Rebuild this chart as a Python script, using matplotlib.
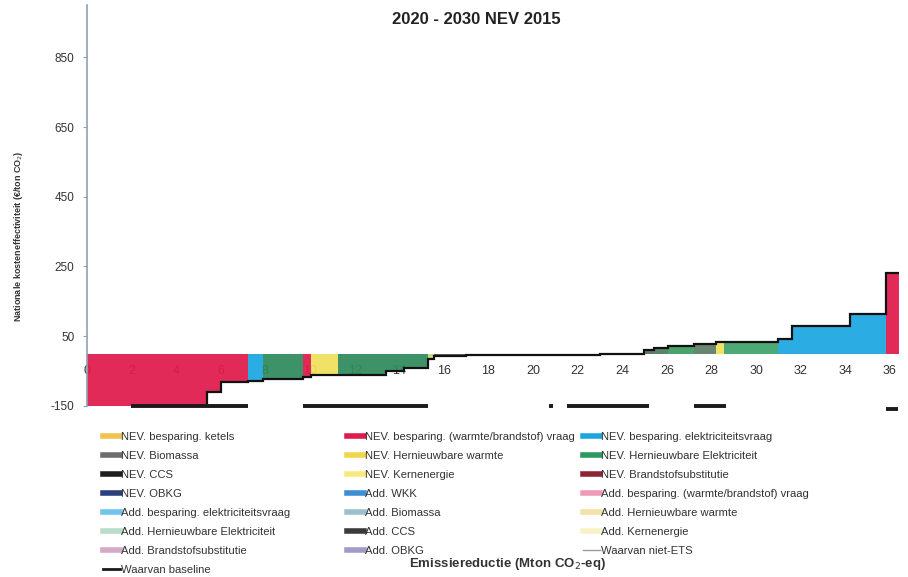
import matplotlib.pyplot as plt
from matplotlib.lines import Line2D

plt.rcParams['font.family'] = ['Liberation Sans', 'DejaVu Sans']
plt.rcParams['axes.unicode_minus'] = False

# cost curve: segment edges (Mton CO2-eq) and cost per segment (EUR/ton CO2)
edges = [0, 5.4, 6.0, 7.2, 7.9, 9.7, 10.05, 11.26, 13.4, 14.2, 15.3, 15.56,
         17.0, 19.0, 21.0, 23.0, 24.98, 25.4, 26.05, 27.2, 28.2, 28.55,
         31.0, 31.6, 34.2, 35.8, 36.4]
costs = [-155, -109, -80, -77, -74, -66, -60, -60, -49, -40, -14,
         -6, -5, -4, -3, -2, 10, 15, 23, 29, 34, 34, 42, 80, 115, 232]
seg_colors = ['#e01a4b', '#e01a4b', '#e01a4b', '#1ba6e0', '#2f8a5d',
              '#e01a4b', '#efe05a', '#2f8a5d', '#2f8a5d', '#2f8a5d',
              '#c9d97a', '#555555', '#555555', '#555555', '#555555',
              '#555555', '#586c5c', '#4c7d5c', '#3c9c60', '#5f7d66',
              '#efe05a', '#3fa36a', '#1ba6e0', '#1ba6e0', '#1ba6e0',
              '#e01a4b']

# "Waarvan baseline" segments below the curve
base_start = [1.97, 9.69, 20.7, 21.5, 27.2, 35.83]
base_end = [7.2, 15.3, 20.9, 25.2, 28.65, 36.37]
base_level = [-150, -150, -150, -150, -150, -160]

x_ticks = list(range(0, 37, 2))
y_ticks = [-150, 50, 250, 450, 650, 850]

# legend entries (three columns)
leg_col1 = [('NEV. besparing. ketels', '#f2c24c'),
            ('NEV. Biomassa', '#6d6d6d'),
            ('NEV. CCS', '#1e1e1e'),
            ('NEV. OBKG', '#2b3f7e'),
            ('Add. besparing. elektriciteitsvraag', '#6cc4ee'),
            ('Add. Hernieuwbare Elektriciteit', '#b8dccb'),
            ('Add. Brandstofsubstitutie', '#d8a8c8'),
            ('Waarvan baseline', '#1a1a1a')]
leg_col2 = [('NEV. besparing. (warmte/brandstof) vraag', '#e01a4b'),
            ('NEV. Hernieuwbare warmte', '#f1d54c'),
            ('NEV. Kernenergie', '#f7ea7a'),
            ('Add. WKK', '#3d8fd4'),
            ('Add. Biomassa', '#9cc0cf'),
            ('Add. CCS', '#3a3a3a'),
            ('Add. OBKG', '#a49ac8')]
leg_col3 = [('NEV. besparing. elektriciteitsvraag', '#1ba6e0'),
            ('NEV. Hernieuwbare Elektriciteit', '#2c9a5e'),
            ('NEV. Brandstofsubstitutie', '#8e2434'),
            ('Add. besparing. (warmte/brandstof) vraag', '#f09ab8'),
            ('Add. Hernieuwbare warmte', '#f1e2a8'),
            ('Add. Kernenergie', '#f8f1c8'),
            ('Waarvan niet-ETS', '#9a9a9a')]

fig = plt.figure(figsize=(9.08, 5.77), dpi=100)
ax = fig.add_axes([0.0958, 0.2964, 0.904, 0.695])

widths = [edges[i + 1] - edges[i] for i in range(len(costs))]
ax.bar(edges[:-1], costs, width=widths, align='edge', color=seg_colors,
       linewidth=0, alpha=0.93, zorder=2)
ax.stairs(costs, edges, baseline=None, color='#111111', linewidth=1.6, zorder=3)
ax.hlines(base_level, base_start, base_end, colors='#1a1a1a', linewidth=2.8,
          clip_on=False, zorder=3)

ax.set_xlim(0, 36.8)
ax.set_ylim(-150, 1000)
ax.set_xticks(x_ticks)
ax.set_yticks(y_ticks)
ax.set_axisbelow(True)

for s in ['top', 'right']:
    ax.spines[s].set_visible(False)
ax.spines['bottom'].set_position(('data', 0))
ax.spines['bottom'].set_visible(False)
ax.spines['left'].set_color('#8fa0b8')
ax.spines['left'].set_linewidth(1.2)

ax.tick_params(axis='x', length=0, pad=8, labelsize=9, labelcolor='#333333')
ax.tick_params(axis='y', length=3, width=0.8, color='#8fa0b8', pad=6,
               labelsize=8.5, labelcolor='#333333')

fig.text(0.525, 0.967, '2020 - 2030 NEV 2015', ha='center', va='center',
         fontsize=12, fontweight='bold', color='#222222')
fig.text(0.02, 0.59, 'Nationale kosteneffectiviteit (€/ton CO$_2$)',
         rotation=90, ha='center', va='center', fontsize=6.5,
         fontweight='bold', color='#333333')
fig.text(0.559, 0.0225, 'Emissiereductie (Mton CO$_2$-eq)', ha='center',
         va='center', fontsize=9.5, fontweight='bold', color='#333333')


def make_legend(entries, x):
    handles = []
    for label, col in entries:
        if label.startswith('Waarvan'):
            lw = 2 if 'baseline' in label else 1
        else:
            lw = 4
        handles.append(Line2D([0], [0], color=col, linewidth=lw))
    labels = [e[0] for e in entries]
    leg = fig.legend(handles, labels, loc='upper left',
                     bbox_to_anchor=(x, 0.2518), frameon=False, fontsize=8.1,
                     handlelength=1.5, handletextpad=0.1, borderpad=0,
                     borderaxespad=0, labelspacing=0.8, labelcolor='#333333')
    return leg


make_legend(leg_col1, 0.1134)
make_legend(leg_col2, 0.382)
make_legend(leg_col3, 0.642)

fig.savefig('out.png', dpi=100)
